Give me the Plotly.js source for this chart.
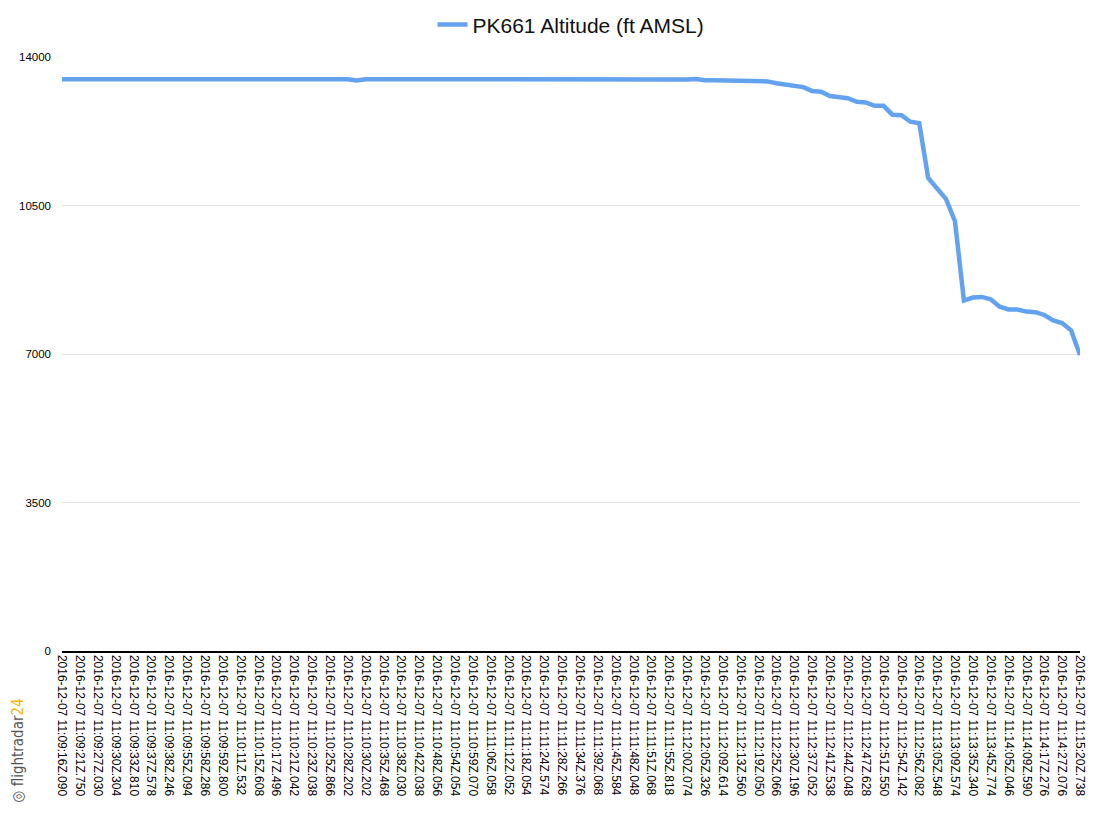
<!DOCTYPE html>
<html>
<head>
<meta charset="utf-8">
<script src="https://cdn.plot.ly/plotly-3.0.1.min.js"></script>
<style>
  html, body { margin: 0; padding: 0; background: #fff; }
  #chart { width: 1118px; height: 816px; }
</style>
</head>
<body>
<div id="chart"></div>
<script>
// Tick labels (every other sample is labelled)
const timeLabels = [
  "2016-12-07 11:09:16Z.090", "2016-12-07 11:09:21Z.750", "2016-12-07 11:09:27Z.030",
  "2016-12-07 11:09:30Z.304", "2016-12-07 11:09:33Z.810", "2016-12-07 11:09:37Z.578",
  "2016-12-07 11:09:38Z.246", "2016-12-07 11:09:55Z.094", "2016-12-07 11:09:58Z.286",
  "2016-12-07 11:09:59Z.800", "2016-12-07 11:10:11Z.532", "2016-12-07 11:10:15Z.608",
  "2016-12-07 11:10:17Z.496", "2016-12-07 11:10:21Z.042", "2016-12-07 11:10:23Z.038",
  "2016-12-07 11:10:25Z.866", "2016-12-07 11:10:28Z.202", "2016-12-07 11:10:30Z.202",
  "2016-12-07 11:10:35Z.468", "2016-12-07 11:10:38Z.030", "2016-12-07 11:10:42Z.038",
  "2016-12-07 11:10:48Z.056", "2016-12-07 11:10:54Z.054", "2016-12-07 11:10:59Z.070",
  "2016-12-07 11:11:06Z.058", "2016-12-07 11:11:12Z.052", "2016-12-07 11:11:18Z.054",
  "2016-12-07 11:11:24Z.574", "2016-12-07 11:11:28Z.266", "2016-12-07 11:11:34Z.376",
  "2016-12-07 11:11:39Z.068", "2016-12-07 11:11:45Z.584", "2016-12-07 11:11:48Z.048",
  "2016-12-07 11:11:51Z.068", "2016-12-07 11:11:55Z.818", "2016-12-07 11:12:00Z.074",
  "2016-12-07 11:12:05Z.326", "2016-12-07 11:12:09Z.614", "2016-12-07 11:12:13Z.560",
  "2016-12-07 11:12:19Z.050", "2016-12-07 11:12:25Z.066", "2016-12-07 11:12:30Z.196",
  "2016-12-07 11:12:37Z.052", "2016-12-07 11:12:41Z.538", "2016-12-07 11:12:44Z.048",
  "2016-12-07 11:12:47Z.628", "2016-12-07 11:12:51Z.550", "2016-12-07 11:12:54Z.142",
  "2016-12-07 11:12:56Z.082", "2016-12-07 11:13:05Z.548", "2016-12-07 11:13:09Z.574",
  "2016-12-07 11:13:35Z.340", "2016-12-07 11:13:45Z.774", "2016-12-07 11:14:05Z.046",
  "2016-12-07 11:14:09Z.590", "2016-12-07 11:14:17Z.276", "2016-12-07 11:14:27Z.076",
  "2016-12-07 11:15:20Z.738"
];

// Altitude samples (ft AMSL)
const altitude = [
  13475, 13475, 13475, 13475, 13475, 13475, 13475, 13475, 13475, 13475,
  13475, 13475, 13475, 13475, 13475, 13475, 13475, 13475, 13475, 13475,
  13475, 13475, 13475, 13475, 13475, 13475, 13475, 13475, 13475, 13475,
  13475, 13475, 13475, 13445, 13475, 13475, 13475, 13475, 13475, 13475,
  13450, 13450, 13450, 13450, 13450, 13450, 13450, 13450, 13450, 13450,
  13450, 13450, 13450, 13450, 13450, 13450, 13450, 13450, 13450, 13475,
  13475, 13475, 13460, 13475, 13475, 13475, 13475, 13475, 13475, 13475,
  13470, 13480, 13450, 13450, 13450, 13450, 13450, 13450, 13425, 13425,
  13380, 13350, 13330, 13290, 13200, 13180, 13080, 13045, 13030, 12945,
  12930, 12850, 12850, 12640, 12630, 12475, 12440, 11150, 10910, 10650,
  10130, 8260, 8330, 8345, 8290, 8115, 8050, 8050, 8000, 7985,
  7920, 7790, 7730, 7560, 6975
];

const yTicks = [0, 3500, 7000, 10500, 14000];

const xIdx = altitude.map((_, i) => i);
const tickVals = timeLabels.map((_, k) => 2 * k);

const trace = {
  x: xIdx,
  y: altitude,
  type: 'scatter',
  mode: 'lines',
  name: 'PK661 Altitude (ft AMSL)',
  line: { color: '#63a2ef', width: 4.5, shape: 'linear' },
  hoverinfo: 'y'
};

const layout = {
  width: 1118,
  height: 816,
  margin: { l: 62, r: 38, t: 57, b: 165, autoexpand: false },
  paper_bgcolor: '#ffffff',
  plot_bgcolor: '#ffffff',
  font: { family: 'Liberation Sans, Arial, sans-serif', color: '#000' },
  showlegend: true,
  legend: {
    orientation: 'h',
    x: 0.5, xanchor: 'center',
    y: 1.054, yanchor: 'middle',
    yref: 'paper',
    font: { size: 21, family: 'Liberation Sans, Arial, sans-serif', color: '#111' },
    itemwidth: 30
  },
  xaxis: {
    range: [0, altitude.length - 1],
    tickmode: 'array',
    tickvals: tickVals,
    ticktext: timeLabels,
    tickangle: 90,
    tickfont: { size: 12, color: '#000' },
    showgrid: false,
    zeroline: false,
    showline: true,
    linecolor: '#000',
    linewidth: 1.5,
    ticks: '',
    fixedrange: true,
    automargin: false
  },
  yaxis: {
    range: [0, 14000],
    tickmode: 'array',
    tickvals: yTicks,
    ticktext: yTicks.map(String),
    tickfont: { size: 11.5, color: '#000' },
    showgrid: true,
    gridcolor: '#e3e3e3',
    gridwidth: 1,
    zeroline: false,
    showline: false,
    ticks: '',
    ticklabelstandoff: 10,
    fixedrange: true,
    automargin: false
  },
  annotations: [
    {
      xref: 'paper', yref: 'paper',
      x: -0.043, y: -0.167,
      xanchor: 'center', yanchor: 'middle',
      textangle: -90,
      showarrow: false,
      text: '◎ flightradar<span style="color:#f5b50a">24</span>',
      font: { size: 15, color: '#555', family: 'DejaVu Sans Condensed, Liberation Sans Narrow, sans-serif' }
    }
  ]
};

Plotly.newPlot('chart', [trace], layout, { displayModeBar: false, staticPlot: true });
</script>
</body>
</html>
